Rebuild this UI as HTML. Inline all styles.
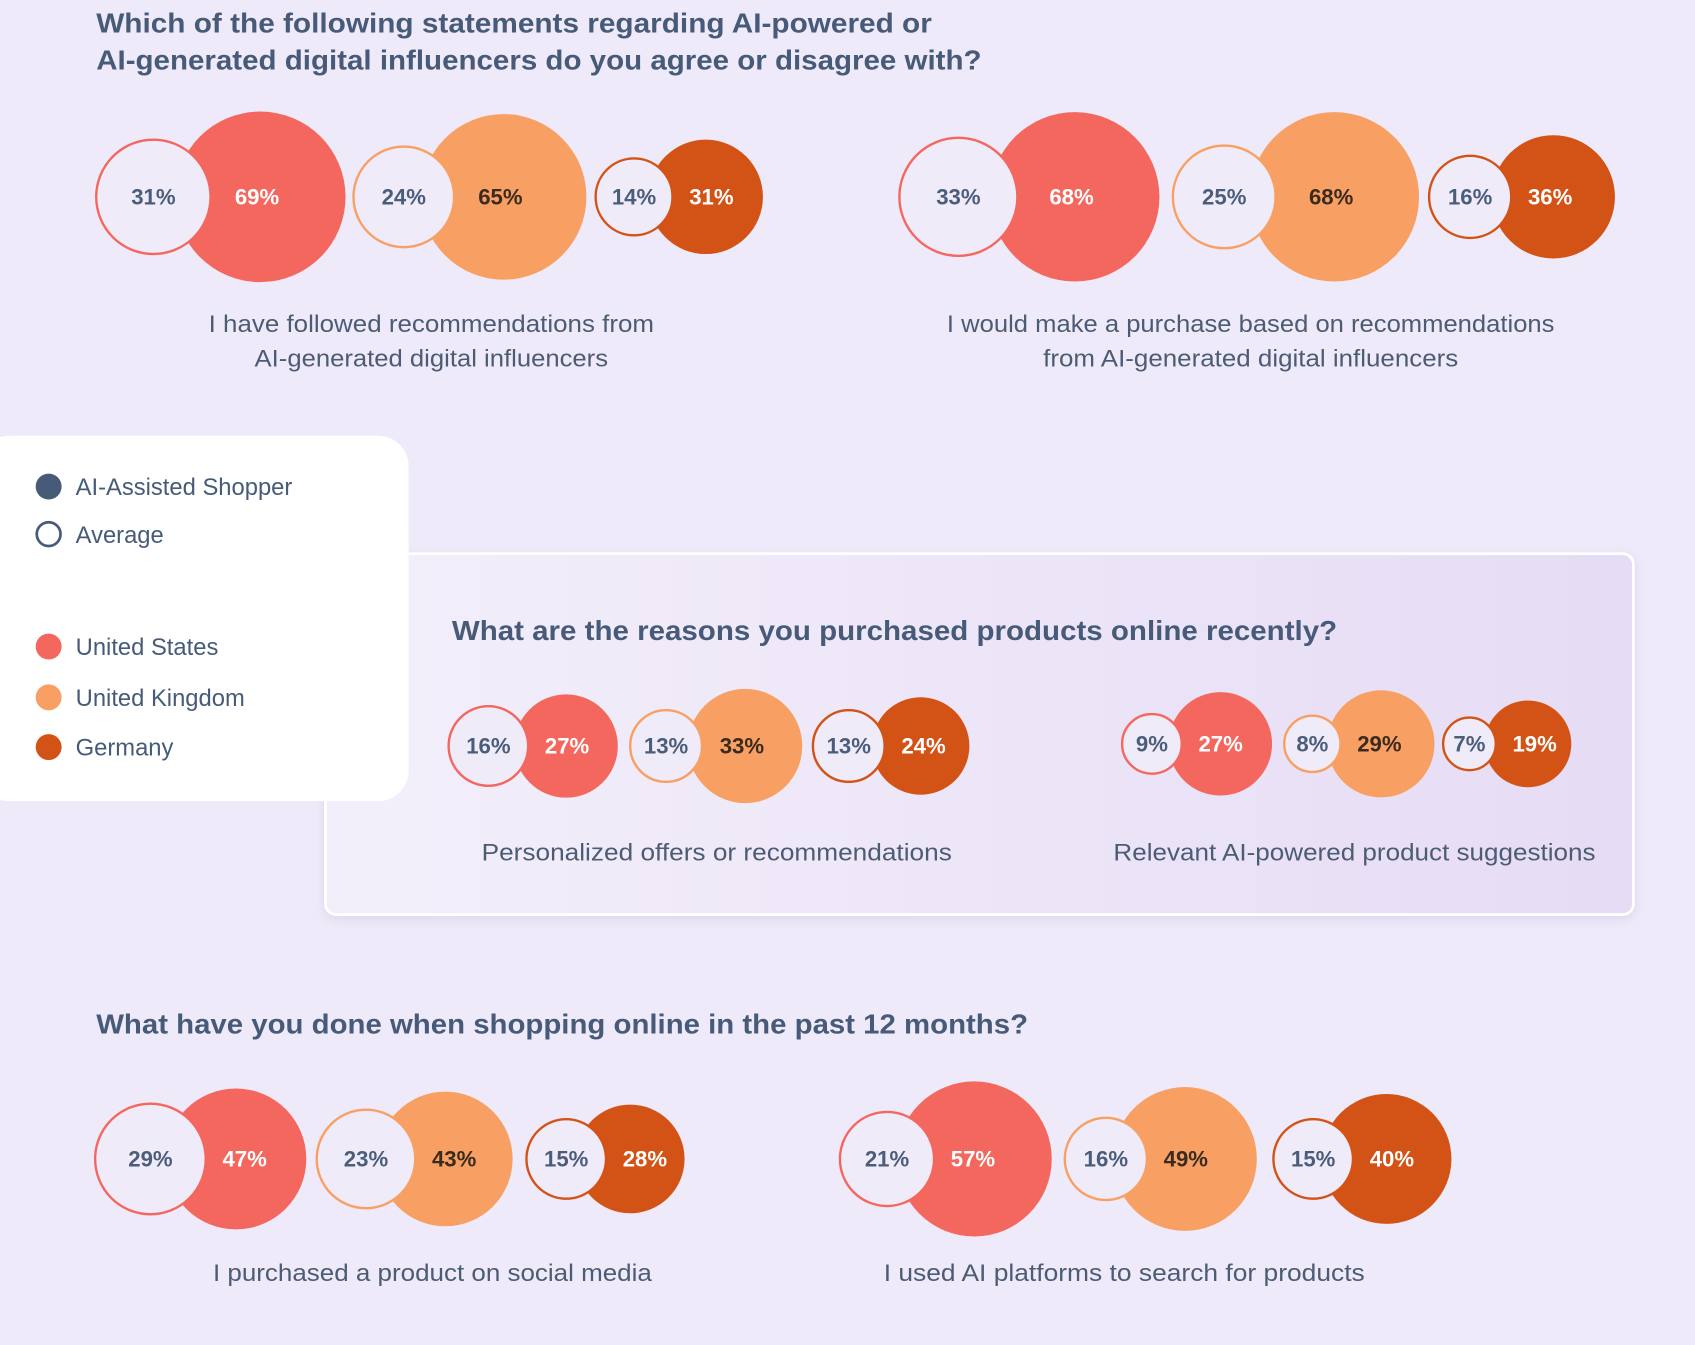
<!DOCTYPE html>
<html><head><meta charset="utf-8"><style>
html,body{margin:0;padding:0;background:#efeaf9;}
svg{display:block;font-family:"Liberation Sans",sans-serif;}
</style></head><body>
<svg id="chart" width="1695" height="1345" viewBox="0 0 1568 1244" xmlns="http://www.w3.org/2000/svg">
<defs>
<linearGradient id="pg" x1="0" x2="1" y1="0" y2="0"><stop offset="0" stop-color="#f3effa"/><stop offset="1" stop-color="#e6dcf5"/></linearGradient>
<filter id="sh" x="-5%" y="-5%" width="110%" height="120%"><feDropShadow dx="0" dy="3" stdDeviation="5" flood-color="#b9acd8" flood-opacity="0.35"/></filter>
</defs>
<rect width="1568" height="1244" fill="#efeaf9"/>
<g font-size="25.5" font-weight="bold" fill="#475b79">
<text x="89" y="30" textLength="773" lengthAdjust="spacingAndGlyphs">Which of the following statements regarding AI-powered or</text>
<text x="89" y="64" textLength="819" lengthAdjust="spacingAndGlyphs">AI-generated digital influencers do you agree or disagree with?</text>
</g>
<rect x="301" y="512" width="1210" height="334" rx="10" fill="url(#pg)" stroke="#ffffff" stroke-width="2.5" filter="url(#sh)"/>
<rect x="-20" y="403" width="398" height="338" rx="28" fill="#ffffff"/>
<text x="418" y="592" font-size="25.5" font-weight="bold" fill="#475b79" textLength="819" lengthAdjust="spacingAndGlyphs">What are the reasons you purchased products online recently?</text>
<text x="89" y="956" font-size="25.5" font-weight="bold" fill="#475b79" textLength="862" lengthAdjust="spacingAndGlyphs">What have you done when shopping online in the past 12 months?</text>
<g font-size="22.5" fill="#4c5c74" text-anchor="middle" lengthAdjust="spacingAndGlyphs">
<text x="399" y="307" textLength="412" lengthAdjust="spacingAndGlyphs">I have followed recommendations from</text>
<text x="399" y="339" textLength="327" lengthAdjust="spacingAndGlyphs">AI-generated digital influencers</text>
<text x="1157" y="307" textLength="562" lengthAdjust="spacingAndGlyphs">I would make a purchase based on recommendations</text>
<text x="1157" y="339" textLength="384" lengthAdjust="spacingAndGlyphs">from AI-generated digital influencers</text>
<text x="663" y="796" textLength="435" lengthAdjust="spacingAndGlyphs">Personalized offers or recommendations</text>
<text x="1253" y="796" textLength="446" lengthAdjust="spacingAndGlyphs">Relevant AI-powered product suggestions</text>
<text x="400" y="1185" textLength="406" lengthAdjust="spacingAndGlyphs">I purchased a product on social media</text>
<text x="1040" y="1185" textLength="445" lengthAdjust="spacingAndGlyphs">I used AI platforms to search for products</text>
</g>
<g font-size="22" fill="#475b79">
<circle cx="45" cy="450" r="12" fill="#475b79"/>
<text x="70" y="458">AI-Assisted Shopper</text>
<circle cx="45" cy="494" r="11" fill="none" stroke="#475b79" stroke-width="2.5"/>
<text x="70" y="502">Average</text>
<circle cx="45" cy="598" r="12" fill="#f4675f"/>
<text x="70" y="606">United States</text>
<circle cx="45" cy="645" r="12" fill="#f8a064"/>
<text x="70" y="653">United Kingdom</text>
<circle cx="45" cy="691" r="12" fill="#d35316"/>
<text x="70" y="699">Germany</text>
</g>
<g id="bubbles"></g>
</svg>
<script>
const countries = ["us", "uk", "germany"];
const questions = ["followed", "purchase", "personalized", "relevant", "social", "ai-search"];
const averageValues = [[31, 24, 14], [33, 25, 16], [16, 13, 13], [9, 8, 7], [29, 23, 15], [21, 16, 15]];
const shopperValues = [[69, 65, 31], [68, 68, 36], [27, 33, 24], [27, 29, 19], [47, 43, 28], [57, 49, 40]];

const colors = {us: "#f4675f", uk: "#f8a064", germany: "#d35316"};
const labelColors = {us: "#ffffff", uk: "#3b2a1e", germany: "#ffffff"};
const layout = [
  {starts: [89, 327, 551], cy: 182, k: 9.5, f: 0.75},
  {starts: [832, 1085, 1322], cy: 182, k: 9.5, f: 0.81},
  {starts: [415, 583, 752], cy: 690, k: 9.2, f: 0.85},
  {starts: [1038, 1188, 1335], cy: 688, k: 9.2, f: 0.84},
  {starts: [88, 293, 487], cy: 1072, k: 9.5, f: 0.68},
  {starts: [777, 985, 1178], cy: 1072, k: 9.5, f: 0.7}
];
const NS = "http://www.w3.org/2000/svg";
const g = document.getElementById("bubbles");
function rScale(v, k) { return k * Math.sqrt(v); }
function mk(tag, attrs) { const e = document.createElementNS(NS, tag); for (const a in attrs) e.setAttribute(a, attrs[a]); return e; }
questions.forEach((q, qi) => {
  const L = layout[qi];
  countries.forEach((c, ci) => {
    const av = averageValues[qi][ci], sv = shopperValues[qi][ci];
    const ra = rScale(av, L.k), rs = rScale(sv, L.k);
    const ax = L.starts[ci] + ra;
    const sx = ax + L.f * (ra + rs);
    const fill = mk("circle", {cx: sx, cy: L.cy, r: rs, fill: colors[c]});
    
    
    g.appendChild(fill);
    const avg = mk("circle", {cx: ax, cy: L.cy, r: ra, fill: "#f0ebf9", stroke: colors[c], "stroke-width": 2.2});
    
    
    g.appendChild(avg);
    const t1 = mk("text", {x: ax, y: L.cy + 7, "text-anchor": "middle", "font-size": 20.5, "font-weight": "bold", fill: "#4a5d7a"});
    t1.textContent = av + "%";
    
    
    g.appendChild(t1);
    const lx = Math.max(sx - 3, ax + ra + 36);
    const t2 = mk("text", {x: lx, y: L.cy + 7, "text-anchor": "middle", "font-size": 20.5, "font-weight": "bold", fill: labelColors[c]});
    t2.textContent = sv + "%";
    
    
    g.appendChild(t2);
  });
});
</script>
</body></html>
